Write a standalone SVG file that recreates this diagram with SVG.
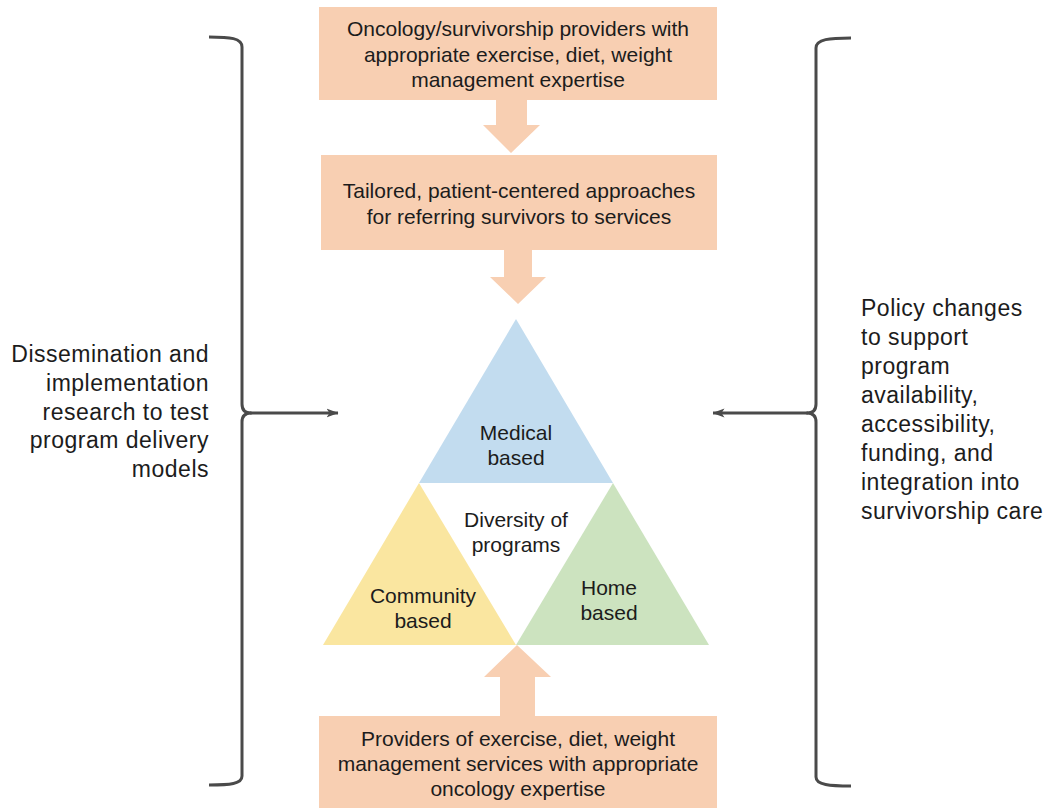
<svg xmlns="http://www.w3.org/2000/svg" width="1050" height="808" viewBox="0 0 1050 808">
<defs>
<style>
.t{font-family:"Liberation Sans",Arial,sans-serif;fill:#1c1c1c;}
.bx{font-size:21px;text-anchor:middle;}
.tri{font-size:21px;text-anchor:middle;}
.side{font-size:23px;letter-spacing:0.5px;}
.box{fill:#f8cfb2;}
.blk{fill:#f8cfb2;}
.br{fill:none;stroke:#4a4a4a;stroke-width:3;stroke-linejoin:round;}
.ar{fill:none;stroke:#4a4a4a;stroke-width:3;}
</style>
<marker id="ah" viewBox="0 0 12 10" refX="11.5" refY="5" markerWidth="12" markerHeight="10" markerUnits="userSpaceOnUse" orient="auto">
<path d="M0,0.5 L12,5 L0,9.5 L3,5 Z" fill="#4a4a4a"/>
</marker>
</defs>
<rect width="1050" height="808" fill="#ffffff"/>

<g id="connectors">
<polygon class="blk" points="496,100 527,100 527,125 540,125 511,153 483,125 496,125"/>
<polygon class="blk" points="504,250 532,250 532,277 546,277 518,304 490,277 504,277"/>
<polygon class="blk" points="500,716 535,716 535,677 551,677 517,645 484,677 500,677"/>
<path class="br" d="M209,37 C230,37 242,38 242,47 L242,404 C242,410 245,413 251,413 C245,413 242,416 242,422 L242,776 C242,784 230,785 209,785"/>
<line class="ar" x1="250" y1="413" x2="338" y2="413" marker-end="url(#ah)"/>
<path class="br" d="M851,38 C830,38 816,39 816,48 L816,404 C816,410 813,413 807,413 C813,413 816,416 816,422 L816,777 C816,785 830,786 851,786"/>
<line class="ar" x1="808" y1="413" x2="713" y2="413" marker-end="url(#ah)"/>
</g>

<g id="box-top">
<rect class="box" x="319" y="7" width="398" height="93"/>
<text class="t bx" x="518" y="36">Oncology/survivorship providers with</text>
<text class="t bx" x="518" y="61.5">appropriate exercise, diet, weight</text>
<text class="t bx" x="518" y="87">management expertise</text>
</g>

<g id="box-middle">
<rect class="box" x="321" y="155" width="396" height="95"/>
<text class="t bx" x="519" y="198">Tailored, patient-centered approaches</text>
<text class="t bx" x="519" y="223.5">for referring survivors to services</text>
</g>

<g id="tri-medical">
<polygon points="516,319 419,483 613,483" fill="#c2dcef"/>
<text class="t tri" x="516" y="440">Medical</text>
<text class="t tri" x="516" y="465">based</text>
</g>

<g id="tri-community">
<polygon points="419,483 323,645 516,645" fill="#fae6a0"/>
<text class="t tri" x="423" y="603">Community</text>
<text class="t tri" x="423" y="628">based</text>
</g>

<g id="tri-home">
<polygon points="613,483 516,645 709,645" fill="#cce3bf"/>
<text class="t tri" x="609" y="595">Home</text>
<text class="t tri" x="609" y="620">based</text>
</g>

<g id="center-label">
<text class="t tri" x="516" y="527">Diversity of</text>
<text class="t tri" x="516" y="552">programs</text>
</g>

<g id="box-bottom">
<rect class="box" x="319" y="716" width="398" height="92"/>
<text class="t bx" x="518" y="746">Providers of exercise, diet, weight</text>
<text class="t bx" x="518" y="771">management services with appropriate</text>
<text class="t bx" x="518" y="796">oncology expertise</text>
</g>

<g id="label-left">
<text class="t side" x="209" y="362" text-anchor="end">Dissemination and</text>
<text class="t side" x="209" y="390.5" text-anchor="end">implementation</text>
<text class="t side" x="209" y="419.5" text-anchor="end">research to test</text>
<text class="t side" x="209" y="448" text-anchor="end">program delivery</text>
<text class="t side" x="209" y="477" text-anchor="end">models</text>
</g>

<g id="label-right">
<text class="t side" x="861" y="316">Policy changes</text>
<text class="t side" x="861" y="345">to support</text>
<text class="t side" x="861" y="374">program</text>
<text class="t side" x="861" y="403">availability,</text>
<text class="t side" x="861" y="432">accessibility,</text>
<text class="t side" x="861" y="461">funding, and</text>
<text class="t side" x="861" y="490">integration into</text>
<text class="t side" x="861" y="519">survivorship care</text>
</g>
</svg>
